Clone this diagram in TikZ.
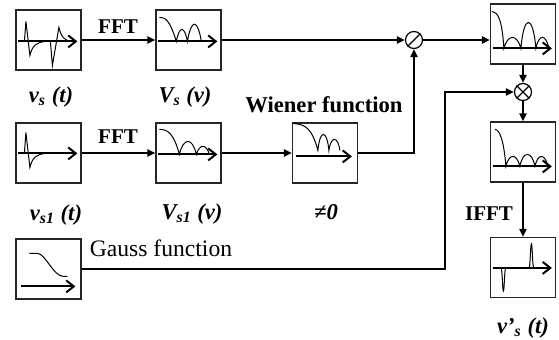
\documentclass[tikz,border=0pt]{standalone}
\usepackage{fontspec}
\setmainfont{Liberation Serif}
\usetikzlibrary{positioning,arrows.meta}

\begin{document}
\begin{tikzpicture}[x=0.5pt,y=-0.5pt,
  font=\fontsize{11.3}{13}\selectfont,
  panel/.style={draw=black!85,line width=0.6pt,minimum width=32.5pt,minimum height=30pt,inner sep=0pt},
  op/.style={circle,draw,line width=0.6pt,minimum size=8.5pt,inner sep=0pt},
  sig/.style={-{Triangle[length=4pt,width=3.5pt]},line width=1pt},
  axisarr/.style={-{Straight Barb[length=3.8pt,width=6pt]},line width=1pt},
  wave/.style={line width=0.5pt},
  lab/.style={font=\fontsize{11.3}{13}\selectfont\bfseries},
  fftlab/.style={font=\fontsize{10.5}{12}\selectfont\bfseries},
  mlab/.style={font=\fontsize{11.3}{13}\selectfont\bfseries\itshape},
]
\useasboundingbox (0,0) rectangle (559,339);

% panels
\node[panel] (vs)    at (48.5,40)  {};
\node[panel] (Vs)    at (188.5,40) {};
\node[panel] (vsa)   at (48.5,153) {};
\node[panel] (Vsa)   at (188.5,153) {};
\node[panel] (wien)  at (325,153)  {};
\node[panel] (quot)  at (523,34)   {};
\node[panel] (prod)  at (523,152)  {};
\node[panel] (out)   at (523,267.5) {};
\node[panel] (gauss) at (48.5,269) {};
\node[op] (div) at (414,40) {};
\node[op] (mul) at (523,92) {};
\draw[line width=0.6pt] (div.south west) -- (div.north east);
\draw[line width=0.6pt] (mul.south west) -- (mul.north east)
                        (mul.north west) -- (mul.south east);

% axes inside the panels
\foreach \b/\s/\y/\e in {vs/3/32/62,Vs/3/32/62,vsa/3/31/62,Vsa/3/32/62,wien/4/34/60,
                         quot/3/45/62,prod/3/45/62,out/3/31/62,gauss/6/48/60}
  \draw[axisarr] ([shift={(\s,\y)}]\b.north west) -- ([shift={(\e,\y)}]\b.north west);

% signals
\begin{scope}[shift={(vs.north west)},wave]
  \draw (3,32) -- (9,32) -- (10.5,12) -- (14.5,46) .. controls (17,36) and (21,33) .. (30,32)
        -- (35,32) -- (37,56) -- (43.5,18) .. controls (46,28) and (49,31) .. (56,32);
\end{scope}
\begin{scope}[shift={(Vs.north west)},wave]
  \draw (4,8) .. controls (10,8) and (14,10) .. (21,32)
        .. controls (24,16) and (29,16) .. (32,32) .. controls (36,9) and (42,9) .. (46,32);
\end{scope}
\begin{scope}[shift={(vsa.north west)},wave]
  \draw (3,31) -- (9,31) -- (10.5,10) -- (14.5,45) .. controls (17,35) and (21,32) .. (30,31);
\end{scope}
\begin{scope}[shift={(Vsa.north west)},wave]
  \draw (4,7) .. controls (12,7) and (18,10) .. (24,32)
        .. controls (28,14.7) and (37,14.7) .. (41,32) .. controls (44,21.3) and (51,21.3) .. (54,32);
\end{scope}
\begin{scope}[shift={(wien.north west)},wave]
  \draw (1,1) .. controls (14,2) and (20,6) .. (26,28)
        .. controls (28,6.7) and (35,6.7) .. (37,28) .. controls (39,13.3) and (46,13.3) .. (48,28);
\end{scope}
\begin{scope}[shift={(quot.north west)},wave]
  \draw (2,8) .. controls (8,9) and (12,15) .. (14,45)
        .. controls (18,30.3) and (27,30.3) .. (31,45) .. controls (34,10.3) and (43,10.3) .. (46,45)
        .. controls (49,30.3) and (56,30.3) .. (59,45);
\end{scope}
\begin{scope}[shift={(prod.north west)},wave]
  \draw (5,8) .. controls (10,8) and (14,20) .. (16,45)
        .. controls (19,31.7) and (27,31.7) .. (30,45) .. controls (33,29) and (42,29) .. (45,45)
        .. controls (48,31.7) and (55,31.7) .. (58,45);
\end{scope}
\begin{scope}[shift={(out.north west)},wave]
  \draw (3,31) -- (11,31) .. controls (12.5,31) and (12.5,54) .. (13.5,54)
        .. controls (14.5,54) and (14.5,31) .. (16,31) -- (39,31)
        .. controls (40.5,31) and (40.5,7) .. (41.5,7) .. controls (42.5,7) and (42.5,31) .. (44,31);
\end{scope}
\begin{scope}[shift={(gauss.north west)},wave]
  \draw (14,15) -- (22,15) .. controls (30,15) and (38,38) .. (48,38) -- (52,38);
\end{scope}

% connectors
\draw[sig] (vs) -- (Vs);
\draw[sig] (Vs) -- (div);
\draw[sig] (div) -- (div -| quot.west);
\draw[sig] (vsa) -- (Vsa);
\draw[sig] (Vsa) -- (wien);
\draw[sig] (wien.east) -| (div.south);
\draw[sig] (quot) -- (mul);
\draw[sig] (mul) -- (prod);
\draw[sig] (prod) -- (out);
\coordinate (gk) at (445,269);
\draw[sig] (gauss.east) -- (gk) |- (mul.west);

% labels
\node[fftlab] (fft1) at (118,27)  {FFT};
\node[fftlab] (fft2) at (118,137) {FFT};
\node[fftlab] (ifft) at (489,214) {IFFT};
\node[lab] (lwien) at (324,105) {Wiener function};
\node[font=\fontsize{11.8}{14}\selectfont] (lgauss) at (161,248) {Gauss function};
\node[mlab] (lvs)  at (51,97)   {v\textsubscript{s} (t)};
\node[mlab] (lVs)  at (185,97)  {V\textsubscript{s} (ν)};
\node[mlab] (lvsa) at (56,215)  {v\textsubscript{s1} (t)};
\node[mlab] (lVsa) at (192,214) {V\textsubscript{s1} (ν)};
\node[mlab] (lne)  at (326,212) {≠0};
\node[mlab] (lout) at (523,328) {v’\textsubscript{s} (t)};
\end{tikzpicture}
\end{document}
